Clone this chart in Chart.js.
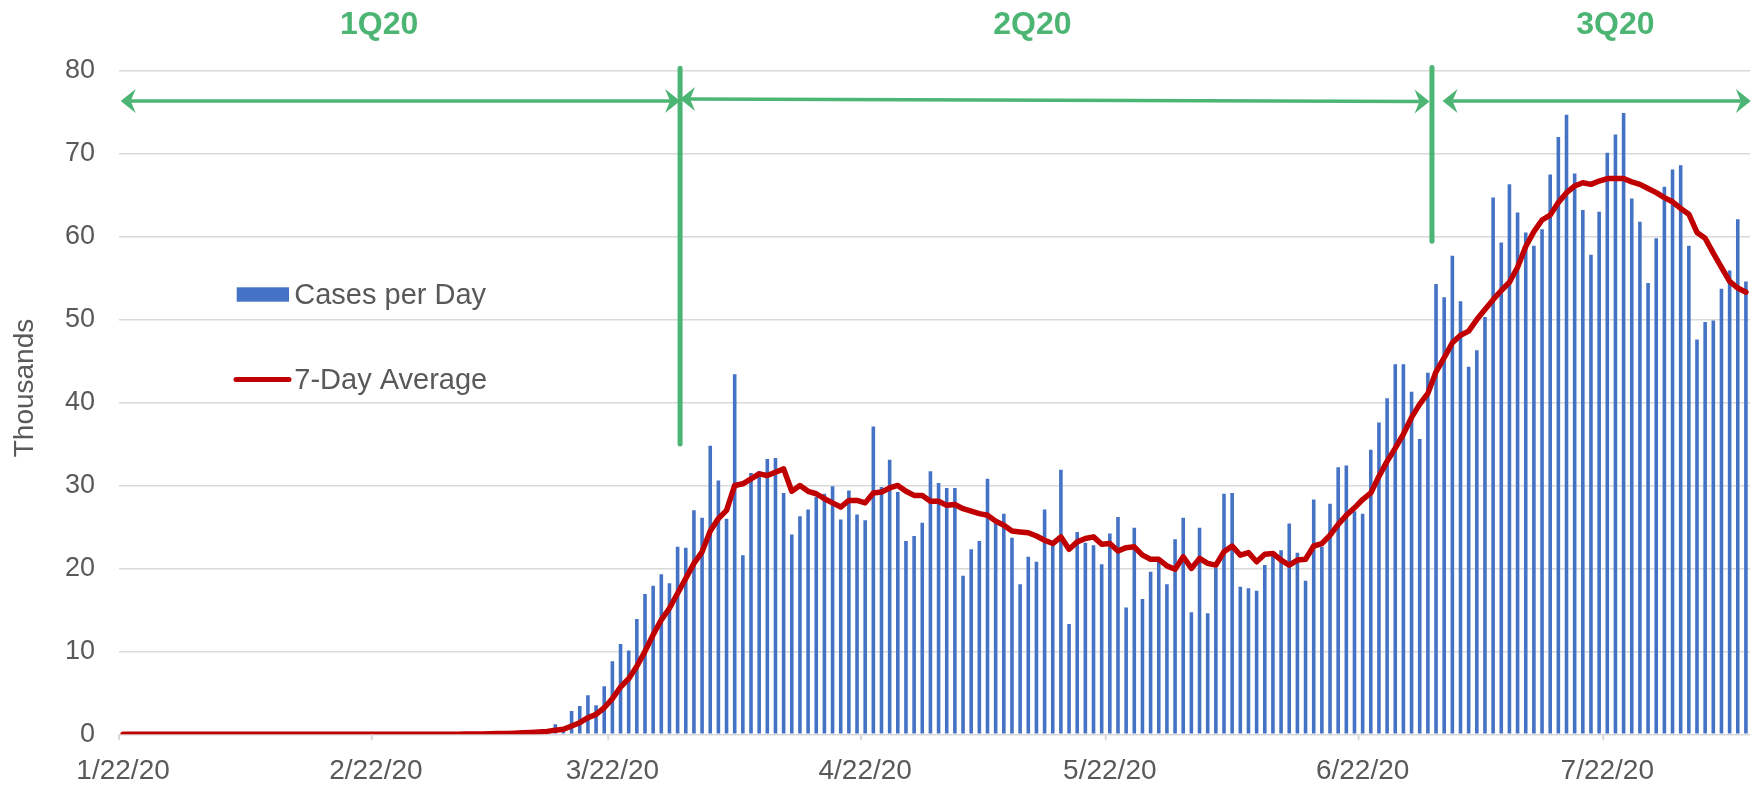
<!DOCTYPE html>
<html>
<head>
<meta charset="utf-8">
<script src="https://cdn.jsdelivr.net/npm/chart.js@4.4.0/dist/chart.umd.min.js"></script>
<style>
  html, body { margin: 0; padding: 0; background: #fff; }
  #chart { display: block; }
</style>
</head>
<body>
<canvas id="chart" width="1762" height="786"></canvas>
<script>
// one value per day, day 0 = 1/22/20, values in thousands
const cases = [
  0, 0, 0, 0, 0, 0, 0, 0, 0, 0,
  0, 0, 0, 0, 0, 0, 0, 0, 0, 0,
  0, 0, 0, 0, 0, 0, 0, 0, 0, 0,
  0, 0, 0, 0, 0, 0, 0, 0, 0, 0.02,
  0.03, 0.04, 0.06, 0.08, 0.1, 0.12, 0.15, 0.2, 0.25, 0.3,
  0.45, 0.5, 0.6, 1.2, 0.8, 2.8, 3.4, 4.7, 3.5, 5.8,
  8.8, 10.9, 10.1, 13.9, 16.9, 17.9, 19.3, 18.2, 22.6, 22.5,
  27.0, 26.1, 34.8, 30.6, 26.0, 43.4, 21.6, 31.5, 31.7, 33.2,
  33.3, 29.1, 24.1, 26.3, 27.1, 28.6, 29.0, 29.9, 25.9, 29.4,
  26.5, 25.8, 37.1, 29.8, 33.1, 29.2, 23.3, 23.9, 25.5, 31.7,
  30.3, 29.7, 29.7, 19.1, 22.3, 23.3, 30.8, 25.5, 26.6, 23.7,
  18.1, 21.4, 20.8, 27.1, 22.8, 31.9, 13.3, 24.4, 23.1, 22.8,
  20.5, 24.2, 26.2, 15.3, 24.9, 16.3, 19.6, 20.8, 18.1, 23.5,
  26.1, 14.7, 24.9, 14.6, 20.1, 29.0, 29.1, 17.8, 17.6, 17.3,
  20.4, 21.6, 22.2, 25.4, 21.9, 18.5, 28.3, 22.6, 27.8, 32.2,
  32.4, 26.9, 26.6, 34.3, 37.6, 40.5, 44.6, 44.6, 41.3, 35.6,
  43.6, 54.3, 52.7, 57.7, 52.2, 44.3, 46.3, 50.3, 64.7, 59.3,
  66.3, 62.9, 60.5, 58.9, 60.9, 67.5, 72.0, 74.7, 67.6, 63.2,
  57.8, 63.0, 70.1, 72.3, 74.9, 64.6, 61.8, 54.4, 59.8, 66.0,
  68.1, 68.6, 58.9, 47.6, 49.7, 49.9, 53.7, 55.9, 62.1, 54.6
];

const avg7 = [
  0, 0, 0, 0, 0, 0, 0, 0, 0, 0,
  0, 0, 0, 0, 0, 0, 0, 0, 0, 0,
  0, 0, 0, 0, 0, 0, 0, 0, 0, 0,
  0, 0, 0, 0, 0, 0, 0, 0, 0, 0.01,
  0.01, 0.02, 0.03, 0.04, 0.05, 0.07, 0.09, 0.11, 0.14, 0.18,
  0.23, 0.28, 0.35, 0.5, 0.6, 1.0, 1.4, 2.0, 2.4, 3.2,
  4.3, 5.7, 6.7, 8.2, 10.0, 12.0, 13.8, 15.2, 17.0, 18.8,
  20.6, 22.0, 24.5, 26.0, 27.0, 30.0, 30.2, 30.8, 31.4, 31.2,
  31.6, 32.0, 29.3, 30.0, 29.3, 29.0, 28.4, 27.9, 27.4, 28.2,
  28.2, 27.9, 29.1, 29.2, 29.7, 30.0, 29.3, 28.8, 28.8, 28.1,
  28.1, 27.6, 27.7, 27.2, 26.9, 26.6, 26.4, 25.7, 25.2, 24.5,
  24.4, 24.3, 23.9, 23.4, 23.0, 23.8, 22.3, 23.2, 23.6, 23.8,
  22.9, 23.0, 22.1, 22.5, 22.6, 21.6, 21.1, 21.1, 20.3, 19.9,
  21.4, 20.0, 21.2, 20.6, 20.4, 22.0, 22.7, 21.6, 21.9, 20.8,
  21.7, 21.8, 21.0, 20.4, 21.0, 21.1, 22.7, 23.0, 24.0, 25.3,
  26.4, 27.3, 28.3, 29.1, 31.1, 32.9, 34.5, 36.2, 38.2, 39.8,
  41.1, 43.7, 45.4, 47.2, 48.1, 48.6, 50.0, 51.2, 52.4, 53.5,
  54.5, 56.3, 58.8, 60.6, 62.0, 62.6, 64.1, 65.3, 66.1, 66.5,
  66.3, 66.7, 67.0, 67.0, 67.0, 66.6, 66.3, 65.8, 65.3, 64.7,
  64.2, 63.4, 62.7, 60.5, 59.8, 58.0, 56.3, 54.6, 53.8, 53.3
];

const tickDays = [0, 31, 60, 91, 121, 152, 182];
const tickLabels = ['1/22/20', '2/22/20', '3/22/20', '4/22/20', '5/22/20', '6/22/20', '7/22/20'];
const quarterNames = ['1Q20', '2Q20', '3Q20'];

// quarter markers, in axis units (days / thousands)
const quarterLabelX = [31.4, 111.5, 183.0];
const quarterLabelY = 85.5;
const dividers = [
  { x: 68.3, from: 35.0, to: 80.3 },
  { x: 160.5, from: 59.45, to: 80.4 }
];
const spans = [
  { x1: -0.29, y1: 76.35, x2: 68.3, y2: 76.35 },
  { x1: 68.3, y1: 76.6, x2: 160.2, y2: 76.3 },
  { x1: 161.8, y1: 76.35, x2: 199.6, y2: 76.35 }
];

const green = '#4db573';
const grey = '#595959';
const font = "'Liberation Sans', Arial, sans-serif";

function arrowHead(ctx, tx, ty, dir) {
  ctx.beginPath();
  ctx.moveTo(tx, ty);
  ctx.lineTo(tx - dir * 15, ty - 12);
  ctx.lineTo(tx - dir * 10, ty);
  ctx.lineTo(tx - dir * 15, ty + 12);
  ctx.closePath();
  ctx.fill();
}

const extras = {
  id: 'extras',
  afterDatasetsDraw(chart) {
    const { ctx, chartArea, scales: { x, y } } = chart;
    ctx.save();

    // little tick marks under the date labels
    ctx.strokeStyle = '#d9d9d9';
    ctx.lineWidth = 2;
    tickDays.forEach(d => {
      const px = x.getPixelForValue(d - 0.5);
      ctx.beginPath();
      ctx.moveTo(px, chartArea.bottom);
      ctx.lineTo(px, chartArea.bottom + 6);
      ctx.stroke();
    });

    ctx.strokeStyle = green;
    ctx.fillStyle = green;
    ctx.lineCap = 'round';
    ctx.lineWidth = 5;
    dividers.forEach(d => {
      const px = x.getPixelForValue(d.x);
      ctx.beginPath();
      ctx.moveTo(px, y.getPixelForValue(d.from));
      ctx.lineTo(px, y.getPixelForValue(d.to));
      ctx.stroke();
    });

    ctx.lineCap = 'butt';
    ctx.lineWidth = 3.5;
    spans.forEach(s => {
      const ax = x.getPixelForValue(s.x1), ay = y.getPixelForValue(s.y1);
      const bx = x.getPixelForValue(s.x2), by = y.getPixelForValue(s.y2);
      ctx.beginPath();
      ctx.moveTo(ax + 10, ay);
      ctx.lineTo(bx - 10, by);
      ctx.stroke();
      arrowHead(ctx, ax, ay, -1);
      arrowHead(ctx, bx, by, 1);
    });

    ctx.font = 'bold 32px ' + font;
    ctx.textAlign = 'center';
    ctx.textBaseline = 'middle';
    quarterNames.forEach((q, i) => {
      ctx.fillText(q, x.getPixelForValue(quarterLabelX[i]), y.getPixelForValue(quarterLabelY));
    });

    // legend inside the plot
    const ds = chart.data.datasets;
    const lx = chartArea.left, ly = chartArea.top;
    ctx.fillStyle = '#4472C4';
    ctx.fillRect(lx + 117.7, ly + 216.6, 52.3, 14.4);
    ctx.strokeStyle = '#C00000';
    ctx.lineWidth = 5;
    ctx.lineCap = 'round';
    ctx.beginPath();
    ctx.moveTo(lx + 117, ly + 308.8);
    ctx.lineTo(lx + 170, ly + 308.8);
    ctx.stroke();
    ctx.fillStyle = grey;
    ctx.font = '29px ' + font;
    ctx.textAlign = 'left';
    ctx.textBaseline = 'alphabetic';
    ctx.fillText(ds[1].label, lx + 175.3, ly + 233.6);
    ctx.fillText(ds[0].label, lx + 175.3, ly + 318.6);

    // axis title
    ctx.font = '28px ' + font;
    ctx.textAlign = 'center';
    ctx.textBaseline = 'middle';
    ctx.translate(25, 388);
    ctx.rotate(-Math.PI / 2);
    ctx.fillText('Thousands', 0, 0);

    ctx.restore();
  }
};

new Chart(document.getElementById('chart'), {
  type: 'bar',
  data: {
    datasets: [
      {
        type: 'line',
        label: '7-Day Average',
        data: avg7.map((v, i) => ({ x: i, y: v })),
        borderColor: '#C00000',
        borderWidth: 5.5,
        borderCapStyle: 'round',
        borderJoinStyle: 'round',
        pointRadius: 0,
        tension: 0,
        order: 1
      },
      {
        label: 'Cases per Day',
        data: cases.map((v, i) => ({ x: i, y: v })),
        backgroundColor: '#4472C4',
        barPercentage: 0.44,
        categoryPercentage: 1,
        order: 2
      }
    ]
  },
  options: {
    responsive: false,
    animation: false,
    devicePixelRatio: 1,
    layout: { padding: { top: 70.7, right: 12, bottom: 0, left: 0 } },
    plugins: {
      legend: { display: false },
      tooltip: { enabled: false }
    },
    scales: {
      x: {
        type: 'linear',
        offset: false,
        min: -0.5,
        max: 199.5,
        grid: { display: false },
        border: { display: false },
        afterBuildTicks: (scale) => { scale.ticks = tickDays.map(v => ({ value: v })); },
        afterFit: (scale) => { scale.height = 51.7; },
        ticks: {
          autoSkip: false,
          maxRotation: 0,
          padding: 12,
          color: grey,
          font: { family: font, size: 28 },
          callback: (v, i) => tickLabels[i]
        }
      },
      y: {
        min: 0,
        max: 80,
        afterFit: (scale) => { scale.width = 119; },
        grid: { color: '#d9d9d9', lineWidth: 1.5, drawTicks: false },
        border: { display: false },
        ticks: {
          stepSize: 10,
          padding: 24,
          color: grey,
          font: { family: font, size: 27 }
        }
      }
    }
  },
  plugins: [extras]
});
</script>
</body>
</html>
